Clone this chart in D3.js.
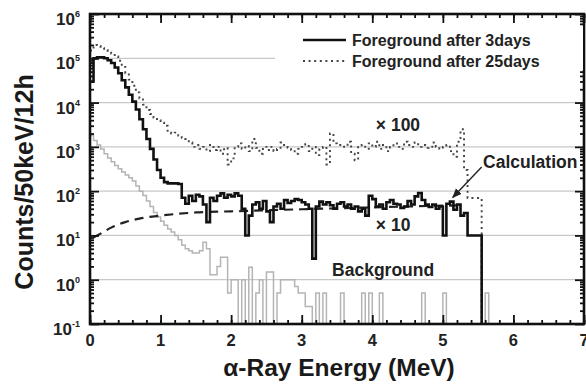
<!DOCTYPE html>
<html>
<head>
<meta charset="utf-8">
<script src="https://cdn.jsdelivr.net/npm/d3@7"></script>
<style>
  body { margin: 0; background: #fff; }
  svg { display: block; font-family: "Liberation Sans", Arial, sans-serif; font-weight: bold; }
</style>
</head>
<body>
<svg id="chart" width="586" height="385"></svg>
<script>
// histogram bins are 50 keV wide, starting at 0 MeV
const binWidth = 0.05;

const foreground3d = [
  30000, 100000, 105000, 105000, 100000, 90000, 78000, 62000, 46000, 32000,
  22000, 15000, 10500, 7000, 4200, 2500, 1500, 900, 520, 300,
  200, 160, 150, 150, 150, 145, 71, 52, 79, 60,
  83, 76, 50, 20, 71, 60, 79, 89, 71, 83,
  76, 89, 79, 40, 10, 28, 50, 56, 40, 60,
  35, 20, 45, 52, 40, 63, 54, 60, 66, 63,
  56, 50, 40, 3, 45, 58, 50, 56, 48, 40,
  52, 56, 45, 50, 40, 45, 35, 40, 28, 79,
  66, 45, 50, 40, 56, 63, 52, 50, 42, 45,
  60, 50, 76, 91, 63, 50, 44, 50, 40, 45,
  10, 52, 58, 38, 50, 28, 32, 10, 10, 10,
  10, 0
];

const foreground25d = [
  150000, 200000, 190000, 170000, 155000, 140000, 128000, 110000, 88000, 64000,
  46000, 33000, 24000, 17000, 12500, 9000, 6800, 5500, 4600, 4000,
  3500, 3000, 2300, 2000, 2100, 1800, 1600, 1500, 1250, 1000,
  1100, 900, 1000, 800, 1100, 850, 1000, 700, 950, 400,
  550, 1000, 1200, 900, 1050, 800, 1500, 950, 700, 1000,
  850, 1000, 800, 900, 1250, 1100, 950, 850, 700, 900,
  1000, 1150, 800, 1000, 650, 900, 1000, 400, 2000, 1200,
  1100, 1100, 1000, 1300, 700, 500, 1000, 1100, 900, 1200,
  1000, 1300, 900, 1100, 800, 1000, 1200, 1000, 900, 1300,
  1100, 1000, 1250, 1000, 1100, 950, 1000, 1250, 1000, 900,
  1000, 1100, 800, 600, 1300, 2500, 300, 70, 70, 70,
  70, 0
];

const background = [
  1800, 1400, 1100, 900, 700, 560, 460, 380, 320, 270,
  230, 200, 170, 130, 100, 80, 60, 45, 33, 26,
  21, 17, 14, 12, 10, 8, 6, 5, 4.5, 4,
  4, 4.5, 7, 5, 1.3, 1.3, 2, 3.2, 3.2, 0.5,
  1, 1, 0, 1, 0, 1.9, 0, 0.5, 1, 0,
  1.5, 1.5, 0, 0.5, 1, 1, 1, 1, 0.7, 0.5,
  0.5, 0.25, 0.25, 0, 0.5, 0, 0.5, 0, 0, 0,
  0, 0.5, 0, 0, 0, 0, 0, 0.5, 0, 0.5,
  0, 0, 0.5, 0, 0, 0, 0, 0, 0, 0,
  0, 0, 0, 0, 0.5, 0, 0, 0, 0, 0,
  0.5, 0, 0, 0, 0, 0, 0, 0, 0, 0,
  0, 0, 0.5, 0
];

const calcEnergy = [0.05, 0.15, 0.3, 0.5, 0.7, 1.0, 1.5, 2.0, 2.5, 3.0, 3.5, 4.0, 4.5, 5.0, 5.3];
const calcCounts = [9, 11, 15, 20, 24, 28, 33, 35, 37, 39, 41, 43, 45, 47, 48];

const xTicks = [0, 1, 2, 3, 4, 5, 6, 7];
const yExponents = [-1, 0, 1, 2, 3, 4, 5, 6];
const legendLabels = ["Foreground after 3days", "Foreground after 25days"];

const x = d3.scaleLinear().domain([0, 7]).range([90, 584]);
const y = d3.scaleLog().domain([0.1, 1e6]).range([324, 14]);

const svg = d3.select('#chart');
const defs = svg.append('defs');

defs.append('clipPath').attr('id', 'plot')
  .append('rect')
    .attr('x', x(0)).attr('y', y(1e6))
    .attr('width', x(7) - x(0)).attr('height', y(0.1) - y(1e6));

// decade grid lines
svg.append('g')
  .selectAll('line')
  .data(yExponents.filter(e => e >= 0 && e <= 5))
  .join('line')
    .attr('x1', x(0)).attr('x2', x(7))
    .attr('y1', d => y(10 ** d)).attr('y2', d => y(10 ** d))
    .attr('stroke', '#c8c8c8')
    .attr('stroke-width', 1.2);

const step = d3.line()
    .curve(d3.curveStepAfter)
    .x(d => x(d[0]))
    .y(d => y(Math.max(d[1], 0.1)));

const bins = arr => arr.map((v, i) => [i * binWidth, v]);

const plot = svg.append('g').attr('clip-path', 'url(#plot)');

plot.append('path')
    .attr('d', step(bins(background)))
    .attr('fill', 'none')
    .attr('stroke', '#b4b4b4')
    .attr('stroke-width', 1.5);

plot.append('path')
    .attr('d', d3.line().curve(d3.curveMonotoneX)
      .x((d, i) => x(calcEnergy[i])).y(d => y(d))(calcCounts))
    .attr('fill', 'none')
    .attr('stroke', '#222')
    .attr('stroke-width', 2.2)
    .attr('stroke-dasharray', '9,6');

plot.append('path')
    .attr('d', step(bins(foreground25d)))
    .attr('fill', 'none')
    .attr('stroke', '#444')
    .attr('stroke-width', 1.9)
    .attr('stroke-dasharray', '2,3.6');

plot.append('path')
    .attr('d', step(bins(foreground3d)))
    .attr('fill', 'none')
    .attr('stroke', '#111')
    .attr('stroke-width', 2.6);

// inward ticks on all four sides
const minorX = d3.range(0, 7.001, 0.2);
const minorY = [];
yExponents.slice(0, -1).forEach(e => { for (let k = 2; k <= 9; k++) minorY.push(k * 10 ** e); });
const majorY = yExponents.map(e => 10 ** e);

function ticks(axis, pos, values, size) {
  const g = svg.append('g')
      .attr('transform', pos)
      .call(axis.tickValues(values).tickSize(size).tickFormat(''));
  g.select('.domain').remove();
  g.selectAll('line').attr('stroke', '#111').attr('stroke-width', 1.8);
  return g;
}
ticks(d3.axisBottom(x), `translate(0,${y(0.1)})`, minorX, -4);
ticks(d3.axisBottom(x), `translate(0,${y(0.1)})`, xTicks, -9);
ticks(d3.axisTop(x), `translate(0,${y(1e6)})`, minorX, -4);
ticks(d3.axisTop(x), `translate(0,${y(1e6)})`, xTicks, -9);
ticks(d3.axisLeft(y), `translate(${x(0)},0)`, minorY, -4);
ticks(d3.axisLeft(y), `translate(${x(0)},0)`, majorY, -9);
ticks(d3.axisRight(y), `translate(${x(7)},0)`, minorY, -4);
ticks(d3.axisRight(y), `translate(${x(7)},0)`, majorY, -9);

// frame
svg.append('rect')
    .attr('x', x(0)).attr('y', y(1e6))
    .attr('width', x(7) - x(0)).attr('height', y(0.1) - y(1e6))
    .attr('fill', 'none')
    .attr('stroke', '#111')
    .attr('stroke-width', 2.6);

// x tick labels
svg.append('g')
  .selectAll('text')
  .data(xTicks)
  .join('text')
    .attr('x', d => x(d))
    .attr('y', y(0.1) + 22)
    .attr('text-anchor', 'middle')
    .attr('font-size', 16.5)
    .attr('fill', '#222')
    .text(d => d);

// y tick labels 10^n
const yl = svg.append('g')
  .selectAll('text')
  .data(yExponents)
  .join('text')
    .attr('x', 80)
    .attr('y', d => y(10 ** d) + 11)
    .attr('text-anchor', 'end')
    .attr('font-size', 17)
    .attr('fill', '#222');
yl.append('tspan').text('10');
yl.append('tspan').attr('dy', -8).attr('font-size', 9).text(d => d);

// axis titles
svg.append('text')
    .attr('x', 339)
    .attr('y', 376)
    .attr('text-anchor', 'middle')
    .attr('font-size', 24.5)
    .attr('fill', '#1a1a1a')
    .text('α-Ray Energy (MeV)');

svg.append('text')
    .attr('transform', `translate(33,${(y(0.1) + y(1e6)) / 2 + 13}) rotate(-90)`)
    .attr('text-anchor', 'middle')
    .attr('font-size', 25)
    .attr('fill', '#1a1a1a')
    .text('Counts/50keV/12h');

// legend
const legend = svg.append('g');
legend.append('rect')
    .attr('x', 275).attr('y', 26)
    .attr('width', x(7) - 276).attr('height', 44)
    .attr('fill', '#fff');
const rows = legend.selectAll('g')
  .data(legendLabels)
  .join('g')
    .attr('transform', (d, i) => `translate(303,${40 + i * 21})`);
rows.append('line')
    .attr('x1', 0).attr('x2', 43)
    .attr('stroke', (d, i) => i ? '#444' : '#111')
    .attr('stroke-width', (d, i) => i ? 1.9 : 2.6)
    .attr('stroke-dasharray', (d, i) => i ? '2,3.6' : null);
rows.append('text')
    .attr('x', 49).attr('y', 5.5)
    .attr('font-size', 16)
    .attr('fill', '#222')
    .text(d => d);

// annotations, placed in data coordinates
function note(txt, ex, cy, size) {
  svg.append('text')
      .attr('x', x(ex)).attr('y', y(cy))
      .attr('font-size', size)
      .attr('fill', '#222')
      .text(txt);
}
note('\u00d7 100', 4.05, 2300, 17.5);
note('\u00d7 10', 4.05, 12.5, 17.5);
note('Background', 3.43, 1.2, 17.5);
note('Calculation', 5.57, 330, 17.5);

defs.append('marker')
    .attr('id', 'arrow')
    .attr('viewBox', '0 0 10 10')
    .attr('refX', 9).attr('refY', 5)
    .attr('markerWidth', 7).attr('markerHeight', 7)
    .attr('orient', 'auto')
  .append('path')
    .attr('d', 'M0,1L10,5L0,9z')
    .attr('fill', '#222');

svg.append('line')
    .attr('x1', x(5.55)).attr('y1', y(350))
    .attr('x2', x(5.14)).attr('y2', y(72))
    .attr('stroke', '#222')
    .attr('stroke-width', 1.4)
    .attr('marker-end', 'url(#arrow)');
</script>
</body>
</html>
